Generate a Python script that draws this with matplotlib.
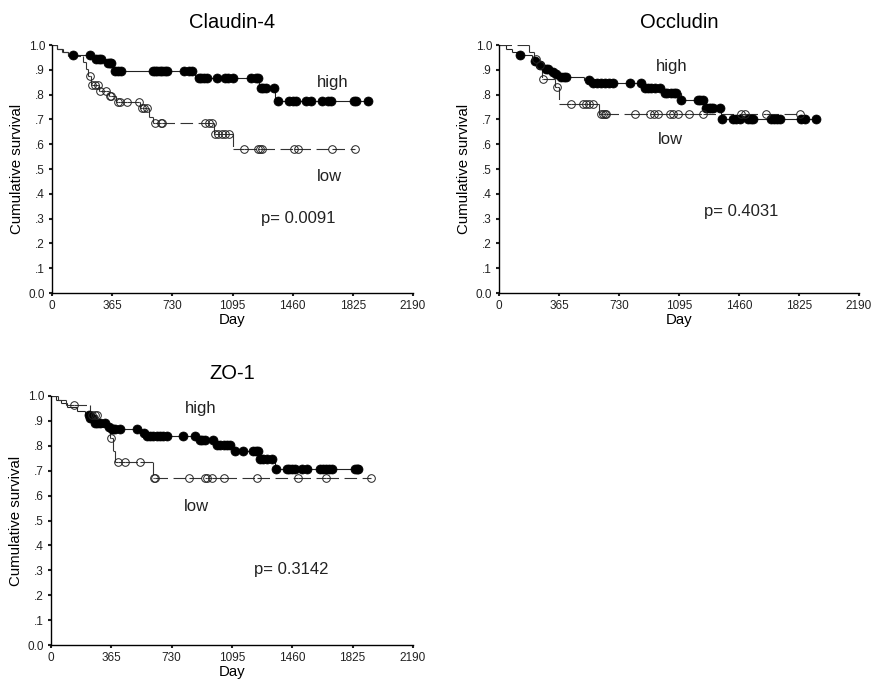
import matplotlib
matplotlib.use("Agg")
from matplotlib import pyplot as plt
from matplotlib.collections import LineCollection
import numpy as np

plt.rcParams['font.family'] = ['Liberation Sans', 'DejaVu Sans']
plt.rcParams['lines.scale_dashes'] = False

# Kaplan-Meier curves: event times (day) and survival after each event,
# plus censoring times for each group
# Claudin-4
cl_high_t = [0, 30, 65, 100, 255, 330, 365, 375, 870, 1255, 1355]
cl_high_s = [1.0, .985, .97, .958, .943, .928, .91, .895, .865, .825, .775]
cl_high_c = [130, 230, 265, 285, 300, 340, 350, 360, 380, 400, 420, 610, 625, 640, 655, 670, 685, 700,
             800, 830, 850, 890, 905, 920, 940, 1000, 1050, 1065, 1100, 1210, 1235, 1250,
             1265, 1280, 1300, 1345, 1370, 1440, 1460, 1480, 1540, 1570, 1640, 1675, 1690,
             1830, 1845, 1920]
cl_low_t = [0, 30, 60, 100, 190, 205, 220, 238, 285, 345, 390, 535, 590, 615, 985, 1100]
cl_low_s = [1.0, .985, .97, .955, .93, .905, .875, .84, .815, .795, .77, .745, .71, .685, .64, .58]
cl_low_c = [228, 245, 260, 278, 290, 330, 350, 360, 400, 415, 455, 525, 545, 560, 575,
            625, 660, 670, 930, 955, 970, 990, 1010, 1030, 1050, 1075,
            1165, 1250, 1260, 1275, 1470, 1490, 1700, 1840]

# Occludin
oc_high_t = [0, 40, 80, 120, 200, 240, 280, 320, 345, 365, 520, 560, 880, 1000, 1105, 1260, 1352]
oc_high_s = [1.0, .985, .972, .958, .935, .918, .905, .892, .882, .872, .858, .845, .825, .805, .778, .745, .70]
oc_high_c = [126, 217, 247, 288, 300, 328, 349, 380, 395, 410, 548, 572, 595, 620, 645, 670, 694,
             795, 862, 886, 905, 925, 947, 977, 1008, 1025, 1045, 1062, 1079, 1109, 1211, 1225,
             1240, 1261, 1275, 1290, 1302, 1342, 1359, 1424, 1440, 1464, 1515, 1530, 1545,
             1657, 1670, 1690, 1707, 1840, 1860, 1930]
oc_low_t = [0, 185, 215, 240, 262, 340, 362, 608]
oc_low_s = [1.0, .97, .945, .92, .862, .832, .762, .72]
oc_low_c = [227, 250, 268, 355, 440, 511, 530, 550, 572, 618, 630, 643, 653, 825, 920, 945, 967,
            1038, 1060, 1089, 1156, 1241, 1474, 1494, 1626, 1829]

# ZO-1
zo_high_t = [0, 30, 60, 97, 157, 207, 230, 255, 340, 355, 550, 575, 895, 1000, 1103, 1264, 1355]
zo_high_s = [1.0, .985, .97, .955, .94, .925, .91, .89, .876, .866, .853, .838, .822, .805, .778, .745, .705]
zo_high_c = [227, 238, 248, 265, 280, 298, 328, 348, 368, 378, 389, 419, 523, 560, 580, 600, 620,
             640, 660, 680, 700, 797, 871, 901, 915, 932, 982, 1006, 1025, 1045, 1065, 1083,
             1113, 1163, 1224, 1240, 1255, 1264, 1280, 1304, 1339, 1361, 1425, 1440, 1458, 1475,
             1516, 1546, 1626, 1645, 1665, 1680, 1697, 1838, 1850, 1858]
zo_low_t = [0, 40, 90, 236, 280, 355, 375, 385, 618]
zo_low_s = [1.0, .985, .963, .922, .875, .832, .78, .735, .672]
zo_low_c = [141, 248, 265, 278, 364, 403, 449, 539, 624, 630, 837, 932, 942, 972, 1047, 1244,
            1492, 1663, 1935]

panels = [
    ("Claudin-4", cl_high_t, cl_high_s, cl_high_c, cl_low_t, cl_low_s, cl_low_c,
     [(1705, .85, "high"), (1682, .468, "low"), (1493, .302, "p= 0.0091")]),
    ("Occludin", oc_high_t, oc_high_s, oc_high_c, oc_low_t, oc_low_s, oc_low_c,
     [(1052, .915, "high"), (1040, .62, "low"), (1472, .327, "p= 0.4031")]),
    ("ZO-1", zo_high_t, zo_high_s, zo_high_c, zo_low_t, zo_low_s, zo_low_c,
     [(907, .948, "high"), (877, .558, "low"), (1452, .305, "p= 0.3142")]),
]

xticks = [0, 365, 730, 1095, 1460, 1825, 2190]
yticks = [0.0, .1, .2, .3, .4, .5, .6, .7, .8, .9, 1.0]
ylabels = ["0.0", ".1", ".2", ".3", ".4", ".5", ".6", ".7", ".8", ".9", "1.0"]

# axes boxes in figure fractions (873 x 685 px)
boxes = [
    [52 / 873, 392 / 685, 361 / 873, 248 / 685],
    [499 / 873, 392 / 685, 360 / 873, 248 / 685],
    [51 / 873, 40 / 685, 362 / 873, 249 / 685],
]


def km_segments(times, surv, cens):
    # split the step curve at every event and censor point, SPSS style
    pts = sorted(set(list(times[1:]) + list(cens)))
    segs = []
    x0, s = times[0], surv[0]
    for t in pts:
        segs.append([(x0, s), (t, s)])
        if t in times:
            s_new = surv[times.index(t)]
            segs.append([(t, s), (t, s_new)])
            s = s_new
        x0 = t
    return segs


def surv_at(times, surv, t):
    idx = np.searchsorted(times, t, side='right') - 1
    return surv[idx]


fig = plt.figure(figsize=(8.73, 6.85), dpi=100)

for box, (title, ht, hs, hc, lt, ls, lc, notes) in zip(boxes, panels):
    ax = fig.add_axes(box)
    ax.add_collection(LineCollection(km_segments(ht, hs, hc), colors='#222222',
                                     linewidths=0.8, linestyles='solid'))
    ax.add_collection(LineCollection(km_segments(lt, ls, lc), colors='#333333',
                                     linewidths=0.8, linestyles=(0, (9, 4))))
    ax.plot(hc, [surv_at(ht, hs, t) for t in hc], 'o', ms=6.5, mfc='black', mec='black',
            mew=0.5, ls='none')
    ax.plot(lc, [surv_at(lt, ls, t) for t in lc], 'o', ms=5.5, mfc='none', mec='#222222',
            mew=0.7, ls='none')
    for x, y, txt in notes:
        ax.text(x, y, txt, ha='center', va='center', fontsize=12, color='#222222')

    ax.set_xlim(0, 2190)
    ax.set_ylim(0, 1.0)
    ax.set_xticks(xticks)
    ax.set_yticks(yticks)
    ax.set_yticklabels(ylabels)
    ax.tick_params(direction='out', length=2, width=1.5, labelsize=8.5, pad=3, colors='#222222')
    ax.spines['top'].set_visible(False)
    ax.spines['right'].set_visible(False)
    ax.spines['left'].set_linewidth(1.0)
    ax.spines['bottom'].set_linewidth(1.0)
    ax.set_xlabel('Day', fontsize=10.8, labelpad=1)
    ax.set_ylabel('Cumulative survival', fontsize=10.8, labelpad=3)
    ax.set_title(title, fontsize=14.5, pad=12)

fig.savefig('out.png', dpi=100)
